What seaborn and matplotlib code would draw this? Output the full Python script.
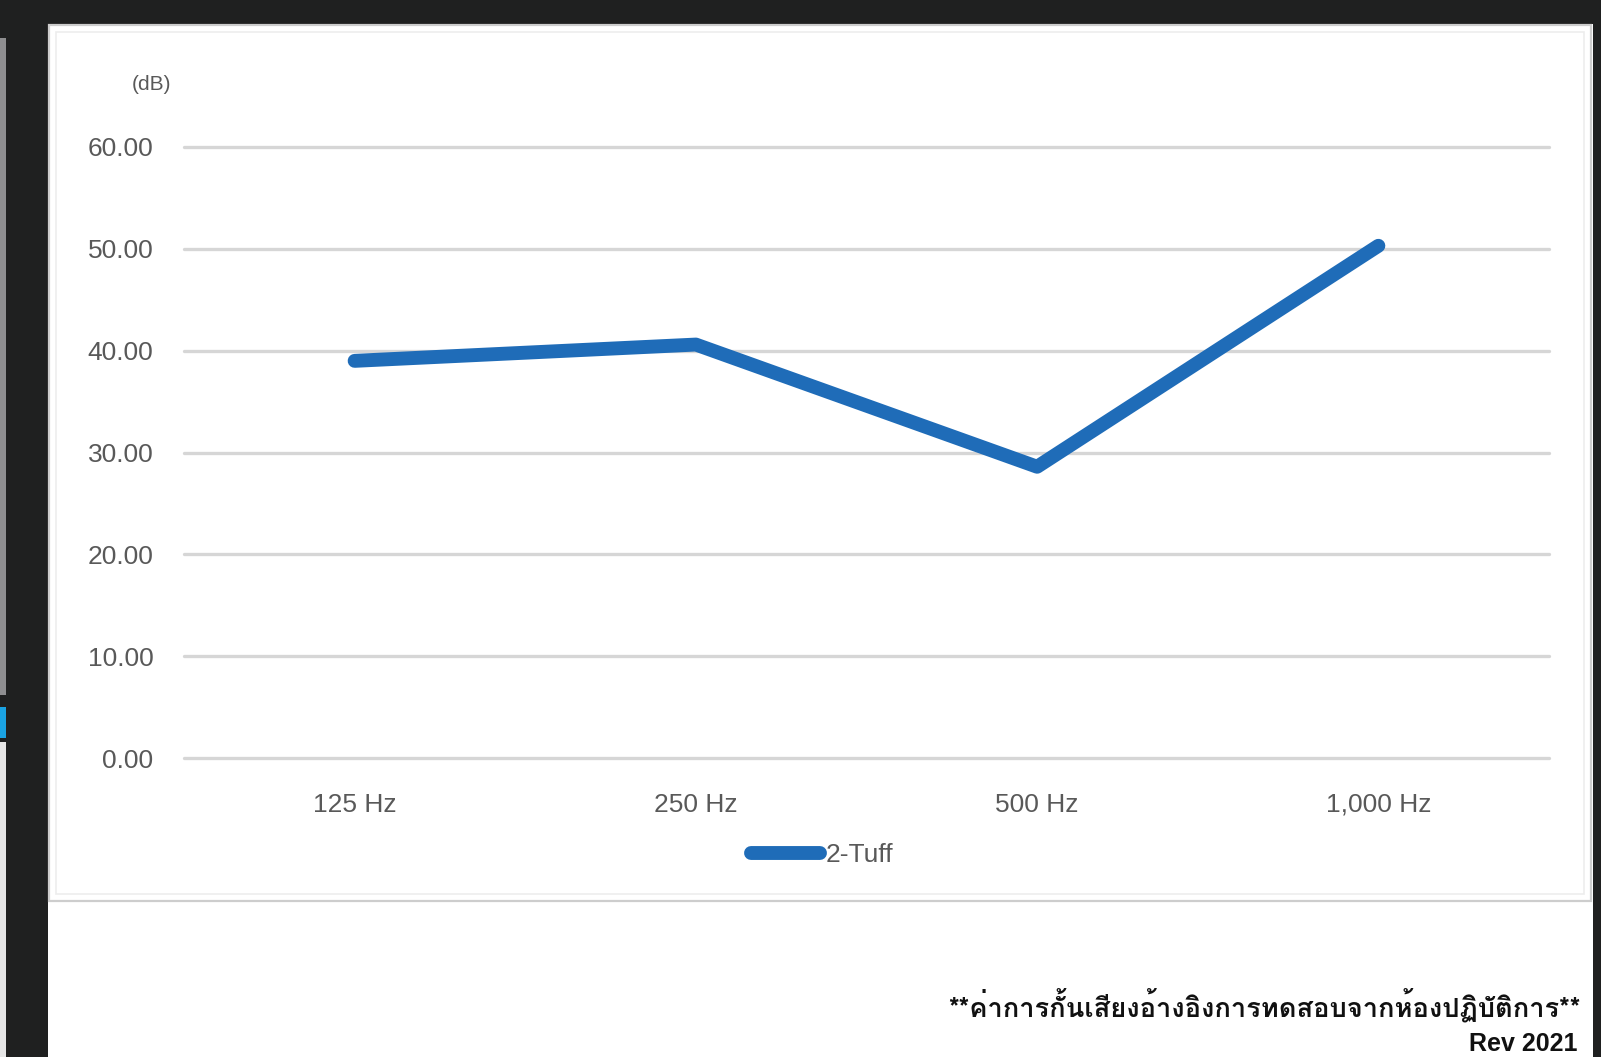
"""Sound insulation chart (2-Tuff) rebuilt with seaborn."""

import matplotlib
matplotlib.use("Agg")
import matplotlib.pyplot as plt
import seaborn as sns
from matplotlib import font_manager
from matplotlib.font_manager import FontProperties
from matplotlib.ft2font import FT2Font
from matplotlib.patches import Rectangle

# data
freq_labels = ["125 Hz", "250 Hz", "500 Hz", "1,000 Hz"]
insulation_db = [39.0, 40.6, 28.6, 50.3]
series_name = "2-Tuff"
y_ticks = [0, 10, 20, 30, 40, 50, 60]
unit_label = "(dB)"
footnote = "**ค่าการกั้นเสียงอ้างอิงการทดสอบจากห้องปฏิบัติการ**"
revision = "Rev 2021"

W, H = 1601, 1057
LINE_BLUE = "#1f6cb8"
TEXT_GREY = "#595959"
GRID_GREY = "#d6d6d6"
DARK = "#1f2020"


def find_thai_font():
    """Return a FontProperties for an installed upright font with Thai glyphs."""
    picks = {}
    for path in sorted(font_manager.findSystemFonts()):
        name = path.lower()
        if "italic" in name or "oblique" in name:
            continue
        try:
            cmap = FT2Font(path).get_charmap()
        except Exception:
            continue
        if 0x0E01 in cmap and 0x0E49 in cmap:
            key = "bold" if "bold" in name and "semi" not in name and "extra" not in name else "other"
            picks.setdefault(key, path)
    path = picks.get("bold") or picks.get("other")
    if path is None:
        return FontProperties(family="DejaVu Sans", weight="bold")
    return FontProperties(fname=path)


def px(x, y):
    """Pixel position (from top-left) to figure fraction."""
    return x / W, 1 - y / H


sns.set_theme(style="white")
plt.rcParams["font.family"] = ["Liberation Sans", "DejaVu Sans"]

fig = plt.figure(figsize=(W / 100, H / 100), dpi=100)
fig.patch.set_facecolor(DARK)


# screenshot surroundings: white page, light strip on the far left
def add_box(x0, y0, x1, y1, **kw):
    fx0, fy1 = px(x0, y0)
    fx1, fy0 = px(x1, y1)
    fig.patches.append(Rectangle((fx0, fy0), fx1 - fx0, fy1 - fy0,
                                 transform=fig.transFigure, figure=fig, **kw))


add_box(48, 24, 1593, H, facecolor="white", edgecolor="none", zorder=-3)
add_box(49, 25, 1591, 901, facecolor="none", edgecolor="#cdcdcd", lw=1.6, zorder=-2)
add_box(56, 32, 1584, 894, facecolor="none", edgecolor="#ededed", lw=1.2, zorder=-2)
add_box(0, 38, 6, 695, facecolor="#8e8e90", edgecolor="none", zorder=-3)
add_box(0, 707, 6, 738, facecolor="#1aa3e3", edgecolor="none", zorder=-3)
add_box(0, 742, 6, H, facecolor="#e6e6e6", edgecolor="none", zorder=-3)

ax0, ay1 = px(184, 147)
ax1, ay0 = px(1549, 758)
ax = fig.add_axes([ax0, ay0, ax1 - ax0, ay1 - ay0])
ax.set_facecolor("none")
ax.set_zorder(1)

sns.lineplot(x=freq_labels, y=insulation_db, sort=False, ax=ax,
             color=LINE_BLUE, linewidth=10, label=series_name,
             solid_capstyle="round", solid_joinstyle="round", zorder=3)

ax.set_xlim(-0.5, len(freq_labels) - 0.5)
ax.set_ylim(y_ticks[0], y_ticks[-1])
ax.set_yticks(y_ticks)
ax.set_yticklabels([f"{v:.2f}" for v in y_ticks])
ax.yaxis.grid(True, color=GRID_GREY, linewidth=2.4)
for gl in ax.get_ygridlines():
    gl.set_clip_on(False)
ax.set_axisbelow(True)
for side in ax.spines.values():
    side.set_visible(False)
ax.tick_params(axis="y", length=0, pad=22, labelsize=19, labelcolor=TEXT_GREY)
ax.tick_params(axis="x", length=0, pad=25, labelsize=19, labelcolor=TEXT_GREY)
ax.set_xlabel("")
ax.set_ylabel("")

handles, labels = ax.get_legend_handles_labels()
ax.get_legend().remove()
fig.legend(handles, labels, loc="center", bbox_to_anchor=px(822, 855),
           frameon=False, fontsize=19, handlelength=2.6, handletextpad=0.2,
           labelcolor=TEXT_GREY)

fig.text(*px(151, 85), unit_label, ha="center", va="center",
         fontsize=15, color=TEXT_GREY)

# footnote, scaled to the width it takes in the picture
thai_font = find_thai_font()
thai_font.set_size(20)
note = fig.text(*px(1580, 1006), footnote, ha="right", va="center",
                color="#111111", fontproperties=thai_font)
renderer = fig.canvas.get_renderer()
width = note.get_window_extent(renderer).width
thai_font.set_size(20 * 633 / width)
note.set_fontproperties(thai_font)

fig.text(*px(1577, 1032), revision, ha="right", va="top",
         fontsize=18, fontweight="bold", color="#111111")

fig.savefig("out.png", dpi=100, facecolor=fig.get_facecolor())
